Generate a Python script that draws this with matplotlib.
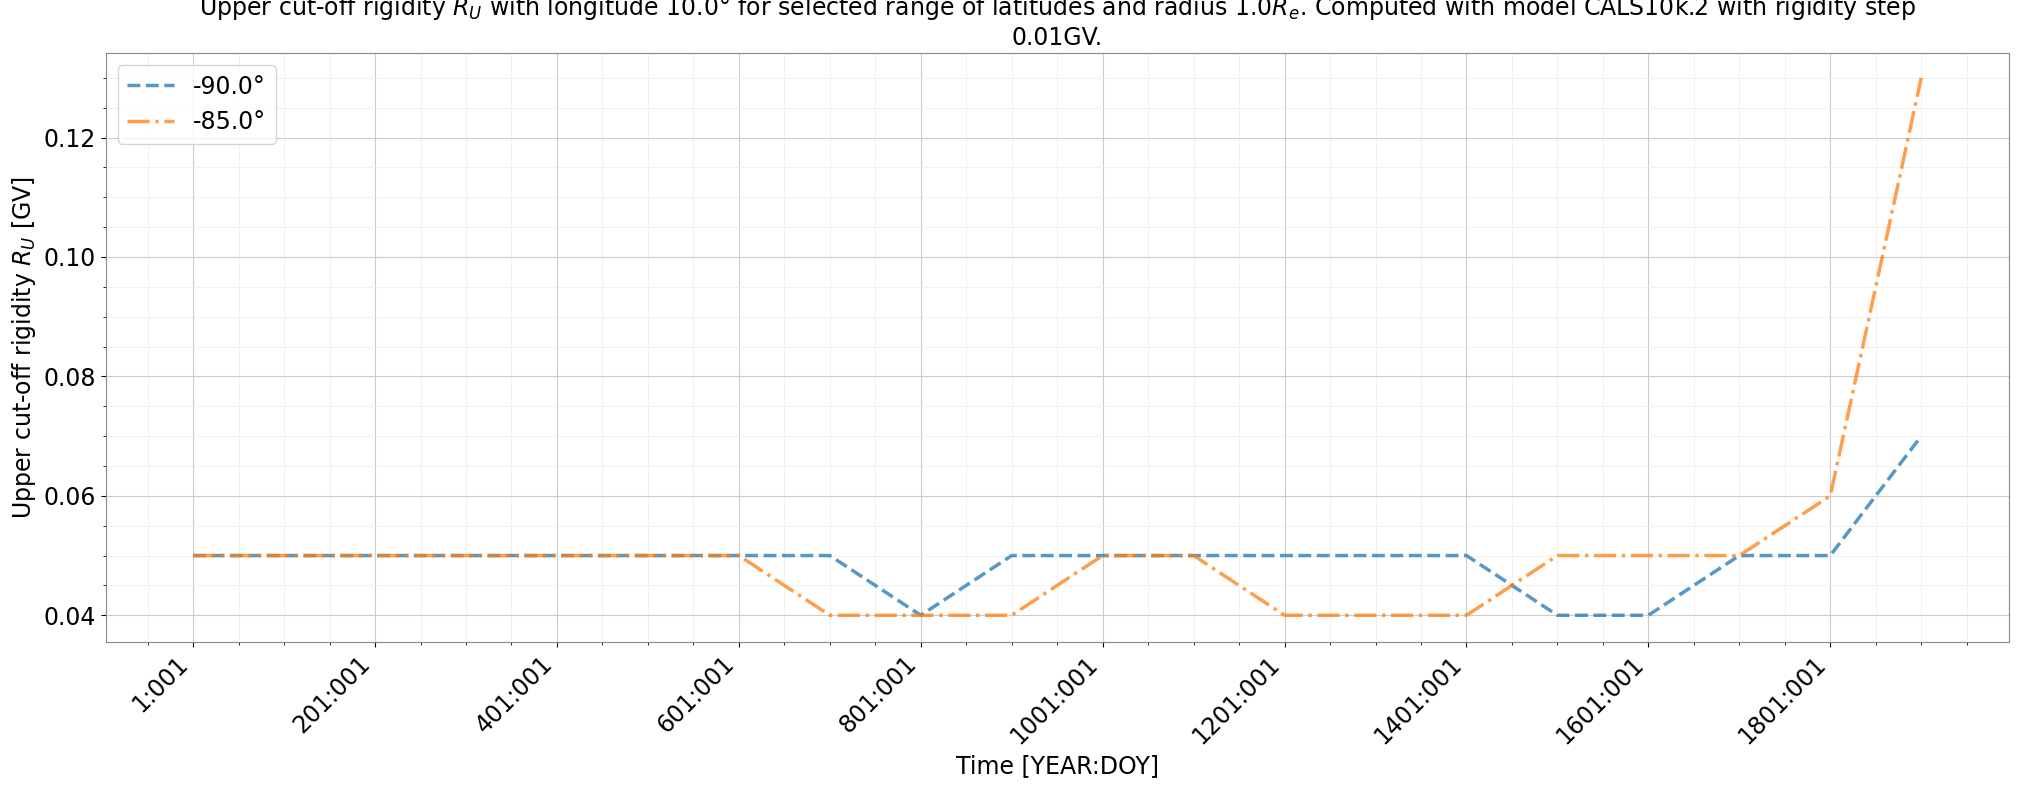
import numpy as np
import matplotlib
matplotlib.use("Agg")
import matplotlib.pyplot as plt
from matplotlib.ticker import AutoMinorLocator

years = list(range(1, 2000, 100))
r_m90 = [0.05, 0.05, 0.05, 0.05, 0.05, 0.05, 0.05, 0.05, 0.04, 0.05,
         0.05, 0.05, 0.05, 0.05, 0.05, 0.04, 0.04, 0.05, 0.05, 0.07]
r_m85 = [0.05, 0.05, 0.05, 0.05, 0.05, 0.05, 0.05, 0.04, 0.04, 0.04,
         0.05, 0.05, 0.04, 0.04, 0.04, 0.05, 0.05, 0.05, 0.06, 0.13]
tick_years = list(range(1, 1802, 200))
tick_labels = [f"{y}:001" for y in tick_years]

fig, ax = plt.subplots(figsize=(20.35, 7.85), dpi=100)
ax.plot(years, r_m90, "--", color="tab:blue", alpha=0.75, lw=2.5, label="-90.0°")
ax.plot(years, r_m85, "-.", color="tab:orange", alpha=0.75, lw=2.5, label="-85.0°")

ax.set_xlim(-95, 1997)
ax.set_ylim(0.0355, 0.1341)
ax.set_xticks(tick_years)
ax.set_xticklabels(tick_labels, rotation=45, ha="right", fontsize=17)
ax.tick_params(axis="y", labelsize=17)
ax.xaxis.set_minor_locator(AutoMinorLocator(4))
ax.yaxis.set_minor_locator(AutoMinorLocator(4))
ax.grid(which="major", color="#cccccc", lw=0.8)
ax.grid(which="minor", color="#eeeeee", lw=0.6)
ax.set_xlabel("Time [YEAR:DOY]", fontsize=17)
ax.set_ylabel("Upper cut-off rigidity $R_U$ [GV]", fontsize=17)
ax.set_title("Upper cut-off rigidity $R_U$ with longitude 10.0° for selected range of latitudes and radius 1.0$R_e$. "
             "Computed with model CALS10k.2 with rigidity step\n0.01GV.", fontsize=17)
ax.legend(loc="upper left", fontsize=17)
for s in ax.spines.values():
    s.set_color("#888888")

plt.subplots_adjust(left=0.052, right=0.987, top=0.932, bottom=0.182)
plt.savefig("out.png", dpi=100)
